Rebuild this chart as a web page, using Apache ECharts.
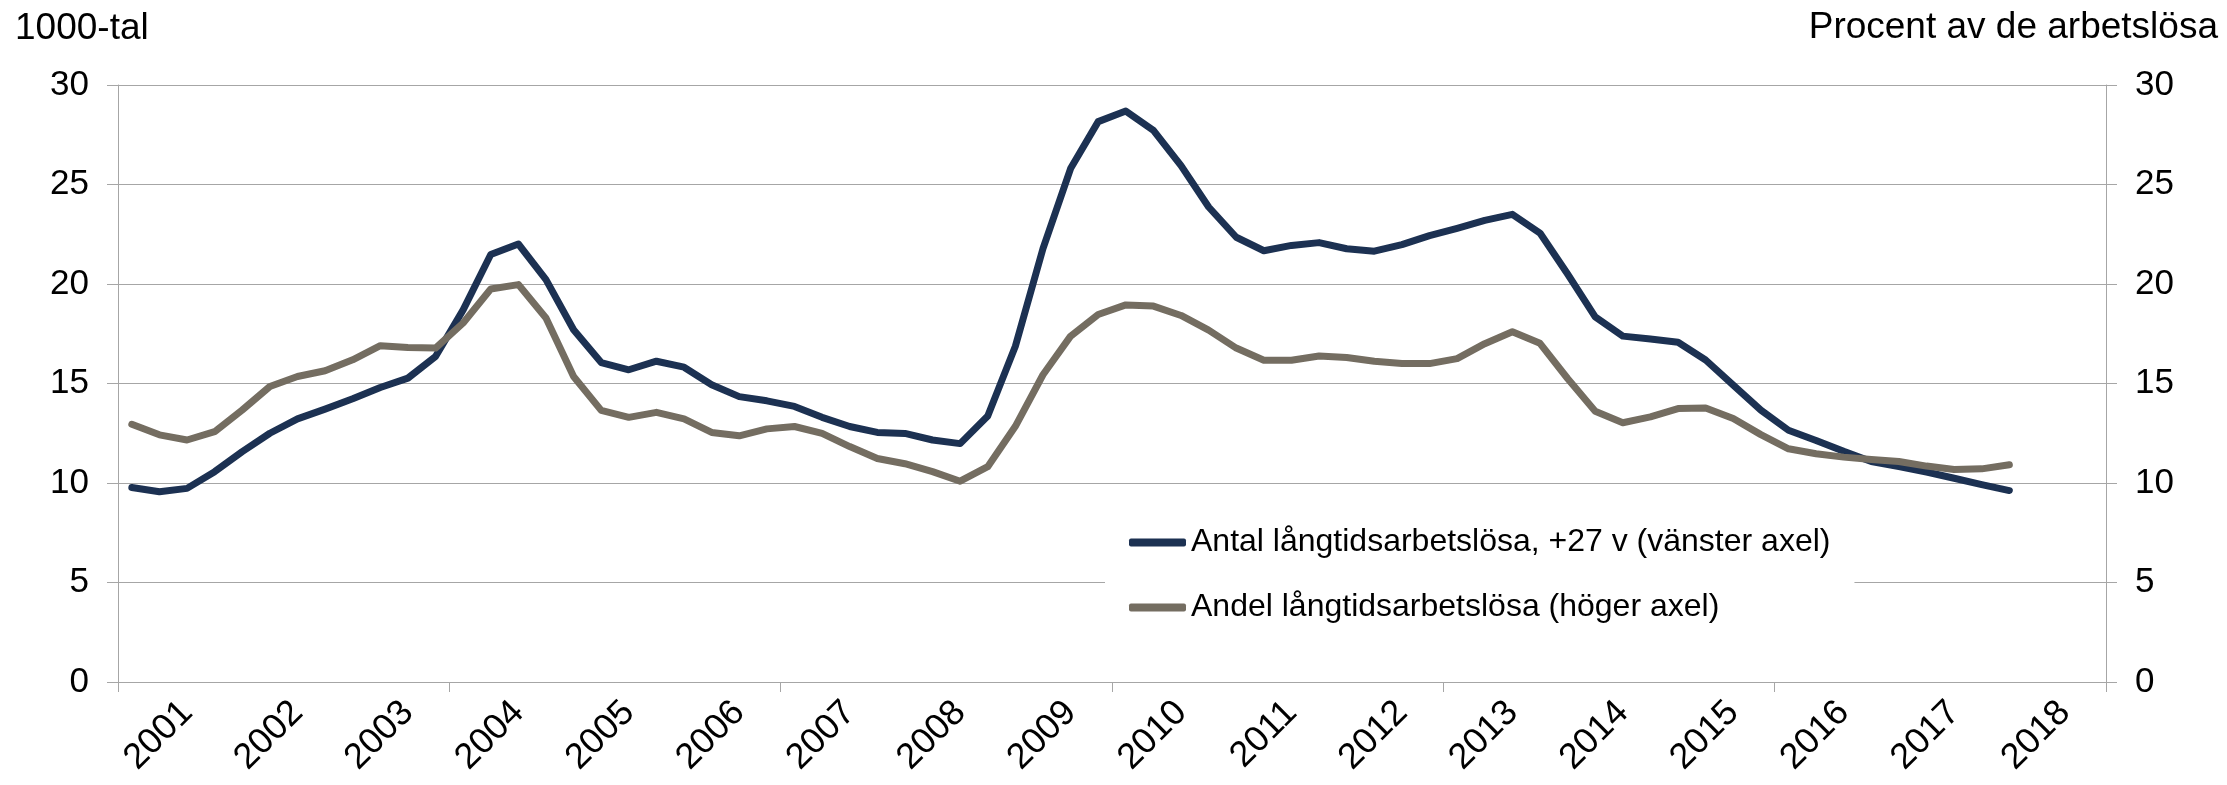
<!DOCTYPE html>
<html>
<head>
<meta charset="utf-8">
<script src="https://cdn.jsdelivr.net/npm/echarts@6.0.0/dist/echarts.min.js"></script>
<style>
  html, body { margin: 0; padding: 0; background: #fff; }
  #chart { width: 2227px; height: 785px; }
</style>
</head>
<body>
<div id="chart"></div>
<script>
// kvartal, 2000K3 - 2018K2
const kvartal = [
  '2000K3', '2000K4',
  '2001K1', '2001K2', '2001K3', '2001K4', '2002K1', '2002K2', '2002K3', '2002K4',
  '2003K1', '2003K2', '2003K3', '2003K4', '2004K1', '2004K2', '2004K3', '2004K4',
  '2005K1', '2005K2', '2005K3', '2005K4', '2006K1', '2006K2', '2006K3', '2006K4',
  '2007K1', '2007K2', '2007K3', '2007K4', '2008K1', '2008K2', '2008K3', '2008K4',
  '2009K1', '2009K2', '2009K3', '2009K4', '2010K1', '2010K2', '2010K3', '2010K4',
  '2011K1', '2011K2', '2011K3', '2011K4', '2012K1', '2012K2', '2012K3', '2012K4',
  '2013K1', '2013K2', '2013K3', '2013K4', '2014K1', '2014K2', '2014K3', '2014K4',
  '2015K1', '2015K2', '2015K3', '2015K4', '2016K1', '2016K2', '2016K3', '2016K4',
  '2017K1', '2017K2', '2017K3', '2017K4',
  '2018K1', '2018K2'
];

// Antal långtidsarbetslösa, +27 v (1000-tal)
const antal = [
  9.77, 9.56, 9.73, 10.57, 11.58, 12.5, 13.22, 13.71, 14.23, 14.8,
  15.27, 16.36, 18.7, 21.48, 22.01, 20.22, 17.7, 16.05, 15.69, 16.12,
  15.82, 14.94, 14.34, 14.13, 13.85, 13.3, 12.84, 12.54, 12.49, 12.16,
  11.98, 13.37, 16.87, 21.78, 25.8, 28.16, 28.69, 27.72, 25.95, 23.87,
  22.35, 21.67, 21.94, 22.08, 21.77, 21.65, 21.98, 22.43, 22.8, 23.2,
  23.5, 22.56, 20.5, 18.35, 17.38, 17.24, 17.07, 16.18, 14.92, 13.66,
  12.65, 12.14, 11.59, 11.08, 10.83, 10.55, 10.24, 9.92, 9.62
];

// Andel långtidsarbetslösa (procent)
const andel = [
  12.95, 12.42, 12.16, 12.58, 13.67, 14.85, 15.35, 15.64, 16.19, 16.9,
  16.81, 16.78, 18.04, 19.75, 19.97, 18.29, 15.35, 13.65, 13.3, 13.55,
  13.22, 12.54, 12.37, 12.72, 12.84, 12.49, 11.83, 11.23, 10.97, 10.57,
  10.09, 10.82, 12.85, 15.44, 17.38, 18.47, 18.95, 18.89, 18.42, 17.68,
  16.78, 16.17, 16.17, 16.38, 16.31, 16.12, 16.0, 16.0, 16.25, 17.0,
  17.6, 17.02, 15.25, 13.61, 13.03, 13.32, 13.74, 13.77, 13.24, 12.43,
  11.72, 11.47, 11.3, 11.18, 11.08, 10.85, 10.68, 10.71, 10.92
];

const namn = [
  'Antal långtidsarbetslösa, +27 v (vänster axel)',
  'Andel långtidsarbetslösa (höger axel)'
];

const font = "'Liberation Sans', Arial, sans-serif";
const grid = '#a6a6a6';

let myChart = echarts.init(document.getElementById('chart'));

const yAxisBase = {
  type: 'value',
  min: 0,
  max: 30,
  interval: 5,
  axisLine: { show: true, lineStyle: { color: grid, width: 1 } },
  axisTick: { show: true, length: 11, lineStyle: { color: grid, width: 1 } },
  splitLine: { show: true, lineStyle: { color: grid, width: 1 } },
  axisLabel: { color: '#000', fontSize: 35, fontFamily: font, margin: 29 }
};

const option = {
  animation: false,
  backgroundColor: '#fff',
  grid: { left: 118, right: 121, top: 85, bottom: 103 },
  graphic: [
    {
      type: 'text', left: 15, top: 10,
      style: { text: '1000-tal', fill: '#000', font: '37px ' + font }
    },
    {
      type: 'text', right: 9, top: 9,
      style: { text: 'Procent av de arbetslösa', fill: '#000', font: '37px ' + font }
    }
  ],
  legend: {
    orient: 'vertical',
    left: 1105,
    top: 506,
    padding: [18, 24, 18, 24],
    backgroundColor: '#fff',
    itemGap: 28,
    itemWidth: 57,
    itemHeight: 8,
    icon: 'roundRect',
    textStyle: { color: '#000', fontSize: 32, fontFamily: font, lineHeight: 37 },
    data: namn
  },
  xAxis: {
    type: 'category',
    data: kvartal,
    boundaryGap: true,
    axisLine: { show: true, lineStyle: { color: grid, width: 1 } },
    axisTick: { show: true, interval: 11, length: 10, lineStyle: { color: grid, width: 1 } },
    axisLabel: {
      interval: (idx, val) => val.endsWith('K1'),
      formatter: (val) => val.slice(0, 4),
      rotate: 45,
      margin: 25,
      color: '#000',
      fontSize: 36,
      fontFamily: font
    },
    splitLine: { show: false }
  },
  yAxis: [
    Object.assign({}, yAxisBase, { position: 'left' }),
    Object.assign({}, yAxisBase, { position: 'right', splitLine: { show: false } })
  ],
  series: [
    {
      name: namn[0],
      type: 'line',
      yAxisIndex: 0,
      data: antal,
      symbol: 'none',
      color: '#1c3152',
      lineStyle: { width: 7, cap: 'round', join: 'round' }
    },
    {
      name: namn[1],
      type: 'line',
      yAxisIndex: 1,
      data: andel,
      symbol: 'none',
      color: '#746d61',
      lineStyle: { width: 7, cap: 'round', join: 'round' }
    }
  ]
};
myChart.setOption(option);
</script>
</body>
</html>
